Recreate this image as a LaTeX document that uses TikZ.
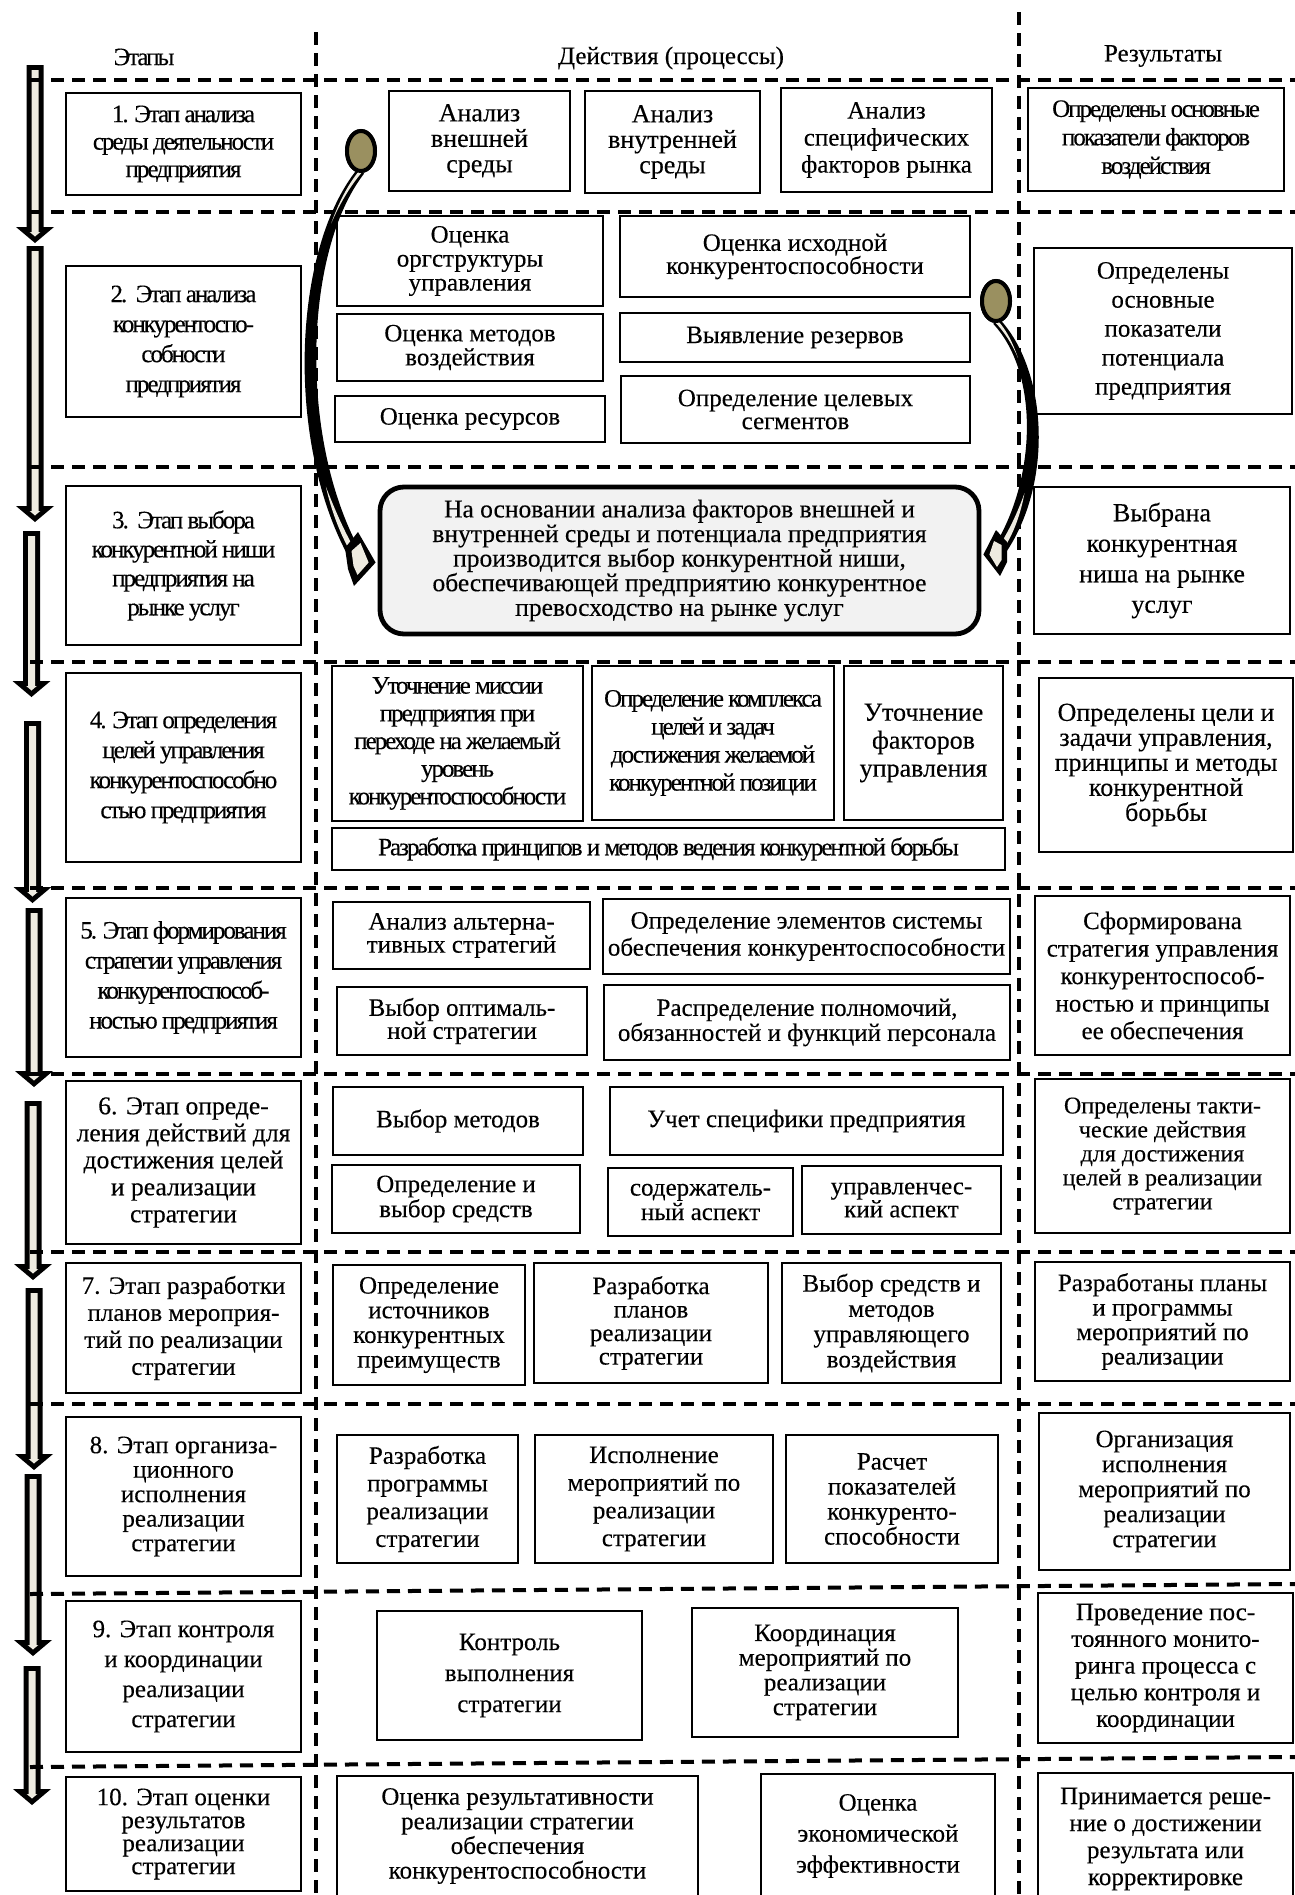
\documentclass[tikz,border=0pt]{standalone}
\usepackage{fontspec}
\setmainfont{Liberation Serif}[FakeBold=0.25]
\newfontfamily\condfont[LetterSpace=-8,FakeBold=0.25]{Liberation Serif}
\usetikzlibrary{shapes.geometric,calc}

\definecolor{arrowfill}{HTML}{EEEBE0}
\definecolor{knob}{HTML}{9A9060}
\definecolor{nichefill}{HTML}{F2F2F2}

% rectangular box given by its corners: [options]{name}{x1}{y1}{x2}{y2}{text}
\newcommand\bx[7][]{%
  \node[box,#1,minimum width={(#5-#3)*0.5pt},minimum height={(#6-#4)*0.5pt}]
    (#2) at ({(#3+#5)/2},{(#4+#6)/2}) {#7};}

% block arrow of the stage column: {x centre}{top}{tip}
% black body first, light core on top
\newcommand\stagearrow[3]{%
  \fill[black] ({#1-8.5},#2) -- ({#1+8.5},#2) -- ({#1+8.5},{#3-16})
    -- ({#1+19},{#3-16}) -- (#1,#3) -- ({#1-19},{#3-16})
    -- ({#1-8.5},{#3-16}) -- cycle;
  \fill[arrowfill] ({#1-3.5},{#2+5}) -- ({#1+3.5},{#2+5}) -- ({#1+3.5},{#3-11})
    -- ({#1+5.3},{#3-11}) -- (#1,{#3-6.5}) -- ({#1-5.3},{#3-11})
    -- ({#1-3.5},{#3-11}) -- cycle;}

\begin{document}
\begin{tikzpicture}[x=0.5pt,y=-0.5pt,
  box/.style={draw, line width=0.8pt, inner sep=0pt, align=center, fill=white},
  fs/.style 2 args={font=\fontsize{#1}{#2}\selectfont},
  cf/.style 2 args={font=\condfont\fontsize{#1}{#2}\selectfont},
  sep/.style={line width=2pt, dash pattern=on 6.5pt off 4pt},
  knobstyle/.style={ellipse, draw, line width=2pt, fill=knob,
    minimum width=14pt, minimum height=20pt, inner sep=0pt},
  fs={12.5}{13}]

\useasboundingbox (0,0) rectangle (1295,1895);
\fill[white] (0,0) rectangle (1295,1895);

% stage flow arrows
\stagearrow{35}{65}{243}
\stagearrow{35}{246}{522}
\stagearrow{31.5}{531}{697}
\stagearrow{32.5}{721}{903}
\stagearrow{34}{908}{1087}
\stagearrow{33}{1101}{1280}
\stagearrow{34}{1288}{1470}
\stagearrow{33}{1474}{1656}
\stagearrow{32}{1666}{1805}

% column separators
\draw[sep] (316,32) -- (316,1895);
\draw[sep] (1019,12) -- (1019,1895);
% row separators
\foreach \yy in {80,212,467,662,888,1074,1252,1404}
  \draw[sep] (30,\yy) -- (1295,\yy);
\draw[sep] (30,1594) -- (1295,1584);
\draw[sep] (30,1767) -- (1295,1757);

% headers
\node[cf={12.5}{13}] (hStages) at (144,57) {Этапы};
\node (hActions) at (671,58) {Действия (процессы)};
\node (hResults) at (1163,56) {Результаты};

% stages
\bx[cf={12.5}{13.75}]{s1}{66}{93}{301}{195}{1. Этап анализа\\среды деятельности\\предприятия}
\bx[cf={12.5}{15}]{s2}{66}{266}{301}{417}{2.\ \ Этап анализа\\конкурентоспо-\\собности\\предприятия}
\bx[cf={12.5}{14.5}]{s3}{66}{486}{301}{645}{3.\ \ Этап выбора\\конкурентной ниши\\предприятия на\\рынке услуг}
\bx[cf={12.5}{15}]{s4}{66}{673}{301}{862}{4. Этап определения\\целей управления\\конкурентоспособно\\стью предприятия}
\bx[cf={12.5}{15}]{s5}{66}{898}{301}{1057}{5. Этап формирования\\стратегии управления\\конкурентоспособ-\\ностью предприятия}
\bx[fs={12.8}{13.5}]{s6}{66}{1081}{301}{1244}{6. Этап опреде-\\ления действий для\\достижения целей\\и реализации\\стратегии}
\bx[fs={12.5}{13.5}]{s7}{66}{1263}{301}{1393}{7. Этап разработки\\планов мероприя-\\тий по реализации\\стратегии}
\bx[fs={12.5}{12.25}]{s8}{66}{1417}{301}{1576}{8. Этап организа-\\ционного\\исполнения\\реализации\\стратегии}
\bx[fs={12.5}{15}]{s9}{66}{1601}{301}{1752}{9. Этап контроля\\и координации\\реализации\\стратегии}
\bx[fs={12.5}{11.5}]{s10}{66}{1777}{301}{1891}{10. Этап оценки\\результатов\\реализации\\стратегии}

% results
\bx[cf={12.5}{14.25}]{r1}{1028}{88}{1284}{191}{Определены основные\\показатели факторов\\воздействия}
\bx[fs={12.5}{14.5}]{r2}{1034}{248}{1292}{414}{Определены\\основные\\показатели\\потенциала\\предприятия}
\bx[fs={13}{15.25}]{r3}{1034}{487}{1290}{634}{Выбрана\\конкурентная\\ниша на рынке\\услуг}
\bx[fs={13}{12.5}]{r4}{1039}{678}{1293}{852}{Определены цели и\\задачи управления,\\принципы и методы\\конкурентной\\борьбы}
\bx[fs={12.5}{13.75}]{r5}{1035}{896}{1290}{1055}{Сформирована\\стратегия управления\\конкурентоспособ-\\ностью и принципы\\ее обеспечения}
\bx[fs={12}{12}]{r6}{1035}{1079}{1290}{1233}{Определены такти-\\ческие действия\\для достижения\\целей в реализации\\стратегии}
\bx[fs={12.5}{12.25}]{r7}{1035}{1262}{1290}{1381}{Разработаны планы\\и программы\\мероприятий по\\реализации}
\bx[fs={12.5}{12.5}]{r8}{1039}{1413}{1290}{1570}{Организация\\исполнения\\мероприятий по\\реализации\\стратегии}
\bx[fs={12.5}{13.35}]{r9}{1038}{1593}{1293}{1743}{Проведение пос-\\тоянного монито-\\ринга процесса с\\целью контроля и\\координации}
\bx[fs={12.5}{13.5}]{r10}{1038}{1773}{1293}{1905}{Принимается реше-\\ние о достижении\\результата или\\корректировке}

% actions, stage 1
\bx[fs={13}{12.75}]{a11}{389}{91}{570}{191}{Анализ\\внешней\\среды}
\bx[fs={13}{12.75}]{a12}{585}{91}{760}{193}{Анализ\\внутренней\\среды}
\bx[fs={12.5}{13.5}]{a13}{781}{88}{992}{192}{Анализ\\специфических\\факторов рынка}
% stage 2
\bx[fs={12.5}{12}]{a21}{337}{216}{603}{306}{Оценка\\оргструктуры\\управления}
\bx[fs={12.5}{11.5}]{a22}{620}{216}{970}{297}{Оценка исходной\\конкурентоспособности}
\bx[fs={12.5}{12}]{a23}{337}{314}{603}{381}{Оценка методов\\воздействия}
\bx{a24}{620}{313}{970}{362}{Выявление резервов}
\bx{a25}{335}{396}{605}{442}{Оценка ресурсов}
\bx[fs={12.5}{11.5}]{a26}{621}{376}{970}{443}{Определение целевых\\сегментов}
% stage 3
\node[draw, line width=2.4pt, rounded corners=12pt, fill=nichefill,
  inner sep=0pt, align=center, font=\fontsize{12.75}{12.3}\selectfont,
  minimum width=299.5pt, minimum height=73.5pt]
  (niche) at (679.5,560.5)
  {На основании анализа факторов внешней и\\внутренней среды и потенциала предприятия\\производится выбор конкурентной ниши,\\обеспечивающей предприятию конкурентное\\превосходство на рынке услуг};
% stage 4
\bx[cf={12.5}{13.85}]{a41}{332}{666}{583}{821}{Уточнение миссии\\предприятия при\\переходе на желаемый\\уровень\\конкурентоспособности}
\bx[cf={12.5}{14}]{a42}{592}{666}{834}{820}{Определение комплекса\\целей и задач\\достижения желаемой\\конкурентной позиции}
\bx[fs={13}{14}]{a43}{844}{666}{1003}{820}{Уточнение\\факторов\\управления}
\bx[cf={12.5}{13}]{a44}{332}{828}{1005}{870}{Разработка принципов и методов ведения конкурентной борьбы}
% stage 5
\bx[fs={12.5}{11.5}]{a51}{333}{902}{590}{969}{Анализ альтерна-\\тивных стратегий}
\bx[fs={12.5}{13.5}]{a52}{603}{899}{1010}{974}{Определение элементов системы\\обеспечения конкурентоспособности}
\bx[fs={12.5}{11.5}]{a53}{337}{987}{587}{1055}{Выбор оптималь-\\ной стратегии}
\bx[fs={12.5}{12.5}]{a54}{604}{985}{1010}{1060}{Распределение полномочий,\\обязанностей и функций персонала}
% stage 6
\bx{a61}{333}{1087}{583}{1155}{Выбор методов}
\bx{a62}{610}{1087}{1003}{1155}{Учет специфики предприятия}
\bx[fs={12.5}{12.5}]{a63}{332}{1165}{580}{1233}{Определение и\\выбор средств}
\bx[fs={12.5}{11}]{a64}{608}{1168}{793}{1236}{содержатель-\\ный аспект}
\bx[fs={12.5}{11.5}]{a65}{802}{1166}{1001}{1234}{управленчес-\\кий аспект}
% stage 7
\bx[fs={12.5}{12.35}]{a71}{333}{1265}{525}{1385}{Определение\\источников\\конкурентных\\преимуществ}
\bx[fs={12.5}{11.75}]{a72}{534}{1263}{768}{1383}{Разработка\\планов\\реализации\\стратегии}
\bx[fs={12.5}{12.65}]{a73}{782}{1263}{1001}{1383}{Выбор средств и\\методов\\управляющего\\воздействия}
% stage 8
\bx[fs={12.5}{13.85}]{a81}{337}{1435}{518}{1563}{Разработка\\программы\\реализации\\стратегии}
\bx[fs={12.5}{13.85}]{a82}{535}{1435}{773}{1563}{Исполнение\\мероприятий по\\реализации\\стратегии}
\bx[fs={12.5}{12.5}]{a83}{786}{1435}{998}{1563}{Расчет\\показателей\\конкуренто-\\способности}
% stage 9
\bx[fs={12.5}{15.5}]{a91}{377}{1611}{642}{1740}{Контроль\\выполнения\\стратегии}
\bx[fs={12.5}{12.35}]{a92}{692}{1608}{958}{1737}{Координация\\мероприятий по\\реализации\\стратегии}
% stage 10
\bx[fs={12.5}{12.3}]{a101}{337}{1776}{698}{1896}{Оценка результативности\\реализации стратегии\\обеспечения\\конкурентоспособности}
\bx[fs={12.5}{15.5}]{a102}{761}{1774}{995}{1898}{Оценка\\экономической\\эффективности}

% knobs and curved arrows into the niche box
\node[knobstyle] (knobL) at (361,151) {};
\node[knobstyle] (knobR) at (996,301) {};
\coordinate (tipL) at ($(niche.west)+(-2,2)$);
\coordinate (tipR) at ($(niche.east)+(2,-6)$);

% left arrow: tapered black stem
\fill[black] (357.9,168.4) .. controls (292,249) and (285,442) .. (349.4,558.3)
  -- (360.6,551.7) .. controls (298,438) and (304,251) .. (364.1,173.6) -- cycle;
% light streaks at both ends of the stem
\fill[arrowfill] (359.8,170) .. controls (348,184.3) and (338.6,202.5) .. (331.2,223.4)
  .. controls (339.8,203.5) and (350.2,186.1) .. (362.2,172) -- cycle;
\fill[arrowfill] (325.9,486.7) .. controls (331.5,511.8) and (340.8,535.6) .. (352.8,556.3)
  -- (357.2,553.7) .. controls (345,533) and (335.1,510.6) .. (325.9,486.7) -- cycle;
% head
\fill[black] (358,532) -- (tipL) -- (354,586) -- (348,569) -- (345,548) -- cycle;
\fill[arrowfill] (360.5,543) -- ($(tipL)+(-7,0)$) -- (357.5,575) -- (353.5,566) -- (351.5,551) -- cycle;

% right arrow: tapered black stem
\fill[black] (998.8,318.2) .. controls (1048,370) and (1054,484) .. (1004.2,555)
  -- (993.8,547) .. controls (1036,480) and (1040,374) .. (993.2,323.8) -- cycle;
\fill[arrowfill] (997.1,319.9) .. controls (1007,330.5) and (1013,343.5) .. (1018,357.9)
  .. controls (1012.2,344.1) and (1004.4,331.9) .. (994.9,322.1) -- cycle;
\fill[arrowfill] (1024.5,493.1) .. controls (1020.5,514.5) and (1013.3,535.3) .. (1001,552.5)
  -- (997,549.5) .. controls (1008.3,532.3) and (1017.3,513.3) .. (1024.5,493.1) -- cycle;
\fill[black] (996,530) -- (tipR) -- (1000,576) -- (1007,562) -- (1007,542) -- cycle;
\fill[arrowfill] (994,541) -- ($(tipR)+(6,0)$) -- (997,567) -- (1001.5,560) -- (1001.5,545) -- cycle;

\node[knobstyle] at (knobL) {};
\node[knobstyle] at (knobR) {};

\end{tikzpicture}
\end{document}
